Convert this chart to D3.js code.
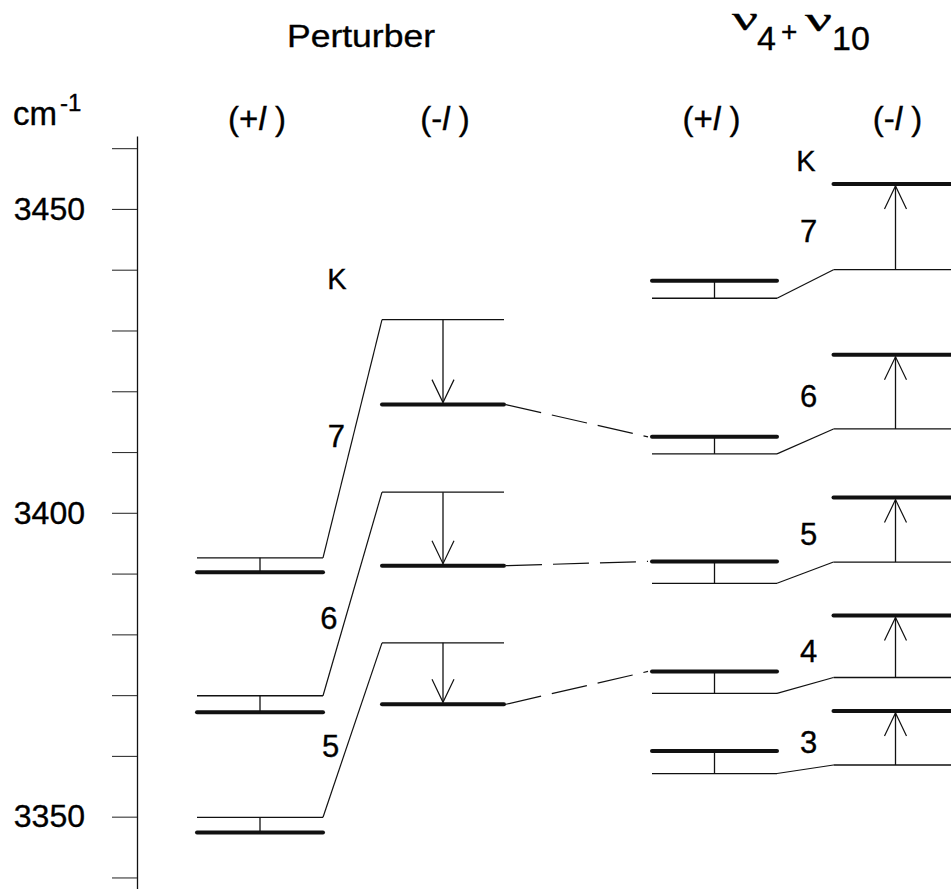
<!DOCTYPE html>
<html>
<head>
<meta charset="utf-8">
<script src="https://cdn.jsdelivr.net/npm/d3@7"></script>
<style>
body { margin: 0; background: #fff; }
svg { display: block; font-family: "Liberation Sans", Arial, sans-serif; }
svg text { stroke: #000; stroke-width: 0.35px; }
</style>
</head>
<body>
<svg></svg>
<script>
// K values of the levels
var pertK = [7, 6, 5];
var combK = [7, 6, 5, 4, 3];

// perturber levels in cm-1 (thin = before, thick = after the shift)
var pertPlusThin   = [3392.6, 3369.9, 3349.9];
var pertPlusThick  = [3390.2, 3367.2, 3347.4];
var pertMinusThin  = [3431.8, 3403.4, 3378.6];
var pertMinusThick = [3417.8, 3391.3, 3368.5];

// v4+v10 levels in cm-1
var combPlusThick  = [3438.2, 3412.5, 3392.0, 3373.9, 3360.8];
var combPlusThin   = [3435.3, 3409.7, 3388.4, 3370.3, 3357.1];
var combMinusThin  = [3440.0, 3413.8, 3391.9, 3372.9, 3358.5];
var combMinusThick = [3454.1, 3426.0, 3402.5, 3383.1, 3367.4];

// dashed links: perturber K -> v4+v10 K
var dashLinks = [[7, 6], [6, 5], [5, 4]];

// axis
var tickValues = [3340, 3350, 3360, 3370, 3380, 3390, 3400, 3410, 3420, 3430, 3440, 3450, 3460];
var tickLabels = [3350, 3400, 3450];

var columns = ["pertPlus", "pertMinus", "combPlus", "combMinus"];
var columnSigns = ["+", "-", "+", "-"];

var svg = d3.select("svg")
    .attr("width", 951)
    .attr("height", 889);

var y = d3.scaleLinear()
    .domain([3338.1, 3462.0])
    .range([889, 136]);

// column centres and half widths
var xc = d3.scaleOrdinal().domain(columns).range([260, 443, 714.5, 895.5]);
var hw = d3.scaleOrdinal().domain(columns).range([63, 61, 62.5, 62]);

var ink = "#111";

// axis
var axis = d3.axisLeft(y)
    .tickValues(tickValues)
    .tickSize(25)
    .tickSizeOuter(0)
    .tickPadding(27)
    .tickFormat(function(d) { return tickLabels.indexOf(d) >= 0 ? d : ""; });

var ga = svg.append("g")
    .attr("transform", "translate(137,0)")
    .call(axis);
ga.select(".domain").attr("stroke", ink).attr("stroke-width", 1.3);
ga.selectAll(".tick line").attr("stroke", "#333").attr("stroke-width", 1.1);
ga.selectAll(".tick text")
    .attr("font-family", "Liberation Sans, Arial, sans-serif")
    .attr("font-size", 32)
    .attr("fill", "#000");

// unit label
var unit = svg.append("text").attr("x", 13).attr("y", 125)
    .attr("font-size", 33).attr("fill", "#000");
unit.append("tspan").text("cm");
unit.append("tspan").attr("font-size", 24).attr("dy", -14).attr("dx", 3).text("-1");

// headers
svg.append("text")
    .attr("x", 361).attr("y", 47)
    .attr("text-anchor", "middle")
    .attr("font-size", 32)
    .attr("textLength", 148).attr("lengthAdjust", "spacingAndGlyphs")
    .text("Perturber");

var title = svg.append("g").attr("fill", "#000");
title.append("text").attr("x", 732).attr("y", 30).attr("font-family", "Liberation Serif, serif")
    .attr("font-size", 33).attr("textLength", 26).attr("lengthAdjust", "spacingAndGlyphs").text("\u03bd");
title.append("text").attr("x", 757).attr("y", 50).attr("font-size", 34).text("4");
title.append("text").attr("x", 781).attr("y", 41).attr("font-size", 28).text("+");
title.append("text").attr("x", 805).attr("y", 31).attr("font-family", "Liberation Serif, serif")
    .attr("font-size", 33).attr("textLength", 27).attr("lengthAdjust", "spacingAndGlyphs").text("\u03bd");
title.append("text").attr("x", 832).attr("y", 50).attr("font-size", 34).text("10");

// (+l) / (-l) headers
columns.forEach(function(c, i) {
  var t = svg.append("text")
      .attr("x", xc(c) + (i % 2 ? 2 : -3)).attr("y", 130)
      .attr("text-anchor", "middle")
      .attr("font-size", 33);
  t.append("tspan").text("(" + columnSigns[i]);
  t.append("tspan").attr("font-style", "italic").text("l");
  t.append("tspan").text("\u00a0)");
});

var lines = svg.append("g").attr("fill", "none").attr("stroke", ink);

function level(col, v, thick) {
  lines.append("line")
      .attr("x1", xc(col) - hw(col)).attr("x2", xc(col) + hw(col))
      .attr("y1", y(v)).attr("y2", y(v))
      .attr("stroke-width", thick ? 4 : 1.3)
      .attr("stroke-linecap", thick ? "round" : "butt");
}

function vline(x, v0, v1) {
  lines.append("line")
      .attr("x1", x).attr("x2", x)
      .attr("y1", y(v0)).attr("y2", y(v1))
      .attr("stroke-width", 1.3);
}

function arrow(x, vFrom, vTo) {
  var y0 = y(vFrom), y1 = y(vTo);
  var s = y0 > y1 ? 1 : -1;
  var tip = y1 + s * 2;
  vline(x, vFrom, y.invert(tip));
  lines.append("path")
      .attr("d", "M" + (x - 11) + "," + (tip + s * 23) + "L" + x + "," + tip + "L" + (x + 11) + "," + (tip + s * 23))
      .attr("stroke-width", 1.2);
}

function slant(colA, vA, colB, vB) {
  lines.append("line")
      .attr("x1", xc(colA) + hw(colA)).attr("y1", y(vA))
      .attr("x2", xc(colB) - hw(colB)).attr("y2", y(vB))
      .attr("stroke-width", 1.2);
}

// perturber
var pertLabelT = [0.51, 0.38, 0.41];
pertK.forEach(function(k, i) {
  level("pertPlus", pertPlusThin[i], false);
  level("pertPlus", pertPlusThick[i], true);
  vline(xc("pertPlus"), pertPlusThin[i], pertPlusThick[i]);
  level("pertMinus", pertMinusThin[i], false);
  level("pertMinus", pertMinusThick[i], true);
  arrow(xc("pertMinus"), pertMinusThin[i], pertMinusThick[i]);
  slant("pertPlus", pertPlusThin[i], "pertMinus", pertMinusThin[i]);

  var x0 = xc("pertPlus") + hw("pertPlus"), y0 = y(pertPlusThin[i]);
  var x1 = xc("pertMinus") - hw("pertMinus"), y1 = y(pertMinusThin[i]);
  var t = pertLabelT[i];
  svg.append("text")
      .attr("x", x0 + t * (x1 - x0) - 8)
      .attr("y", y0 + t * (y1 - y0) + 11)
      .attr("text-anchor", "end")
      .attr("font-size", 31)
      .text(k);
});

svg.append("text")
    .attr("x", 337).attr("y", y(pertMinusThin[0]) - 31)
    .attr("text-anchor", "middle").attr("font-size", 29).text("K");

// v4+v10
combK.forEach(function(k, i) {
  level("combPlus", combPlusThin[i], false);
  level("combPlus", combPlusThick[i], true);
  vline(xc("combPlus"), combPlusThin[i], combPlusThick[i]);
  level("combMinus", combMinusThin[i], false);
  level("combMinus", combMinusThick[i], true);
  arrow(xc("combMinus"), combMinusThin[i], combMinusThick[i]);
  slant("combPlus", combPlusThin[i], "combMinus", combMinusThin[i]);

  svg.append("text")
      .attr("x", 800)
      .attr("y", (y(combMinusThin[i]) + y(combMinusThick[i])) / 2 + 15)
      .attr("font-size", 31)
      .text(k);
});

svg.append("text")
    .attr("x", 806).attr("y", y(combMinusThick[0]) - 13)
    .attr("text-anchor", "middle").attr("font-size", 29).text("K");

// dashed links
dashLinks.forEach(function(d) {
  var a = pertMinusThick[pertK.indexOf(d[0])];
  var b = combPlusThick[combK.indexOf(d[1])];
  lines.append("line")
      .attr("x1", xc("pertMinus") + hw("pertMinus") + 2).attr("y1", y(a))
      .attr("x2", xc("combPlus") - hw("combPlus") - 4).attr("y2", y(b))
      .attr("stroke-width", 1.2)
      .attr("stroke-dasharray", "36,11");
});
</script>
</body>
</html>
